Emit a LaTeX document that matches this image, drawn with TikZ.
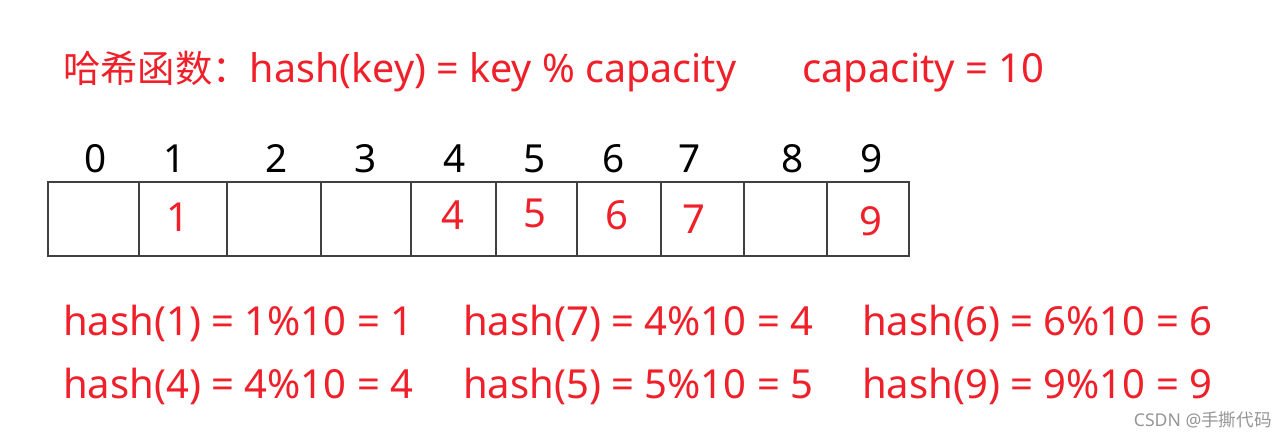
\documentclass[tikz,border=0pt]{standalone}
\usepackage{fontspec}
\setmainfont{Noto Sans}
\newfontfamily\cjk{Noto Sans CJK SC}
\definecolor{hred}{RGB}{240,32,42}
\definecolor{gridc}{RGB}{64,64,64}
\definecolor{wm}{RGB}{150,150,150}
\begin{document}
\begin{tikzpicture}[x=0.75pt,y=-0.75pt,
  redtxt/.style={text=hred,font=\fontsize{30}{36}\selectfont,inner sep=0pt},
  idx/.style={text=black,font=\fontsize{29}{35}\selectfont,inner sep=0pt,anchor=base},
  val/.style={redtxt,anchor=base},
  line/.style={redtxt,anchor=base west},
  cell/.style={draw=gridc,line width=1.5pt,anchor=north west,minimum height=55.5pt,inner sep=0pt}]
\useasboundingbox[fill=white] (0,0) rectangle (1288,439);
% title
\node[line,font=\fontsize{29.6}{36}\selectfont] (t1) at (63,82) {{\cjk\fontsize{28}{34}\selectfont 哈希函数：}hash(key) = key \% capacity};
\node[line] (t2) at (802,82) {capacity = 10};
% cells
\node[cell,minimum width=68.25pt] (c0) at (47,181) {};
\node[cell,minimum width=66pt] (c1) at (138,181) {};
\node[cell,minimum width=70.5pt] (c2) at (226,181) {};
\node[cell,minimum width=67.5pt] (c3) at (320,181) {};
\node[cell,minimum width=63.75pt] (c4) at (410,181) {};
\node[cell,minimum width=60.75pt] (c5) at (495,181) {};
\node[cell,minimum width=63pt] (c6) at (576,181) {};
\node[cell,minimum width=62.25pt] (c7) at (660,181) {};
\node[cell,minimum width=62.25pt] (c8) at (743,181) {};
\node[cell,minimum width=61.5pt] (c9) at (826,181) {};
% indices
\node[idx] (i0) at (96,172) {0};
\node[idx] (i1) at (175,172) {1};
\node[idx] (i2) at (277,172) {2};
\node[idx] (i3) at (366,172) {3};
\node[idx] (i4) at (455,172) {4};
\node[idx] (i5) at (535,172) {5};
\node[idx] (i6) at (614,172) {6};
\node[idx] (i7) at (690,172) {7};
\node[idx] (i8) at (793,172) {8};
\node[idx] (i9) at (872,172) {9};
% values
\node[val] (v1) at (178,231) {1};
\node[val] (v4) at (453,229) {4};
\node[val] (v5) at (535,227) {5};
\node[val] (v6) at (617,229) {6};
\node[val] (v7) at (694,233) {7};
\node[val] (v9) at (871,235) {9};
% formulas
\node[line] (h1) at (63,335) {hash(1) = 1\%10 = 1};
\node[line] (h7) at (463,335) {hash(7) = 4\%10 = 4};
\node[line] (h6) at (862,335) {hash(6) = 6\%10 = 6};
\node[line] (h4) at (63,398) {hash(4) = 4\%10 = 4};
\node[line] (h5) at (463,398) {hash(5) = 5\%10 = 5};
\node[line] (h9) at (862,398) {hash(9) = 9\%10 = 9};
% watermark
\node[anchor=base east,inner sep=0pt,text=wm,font=\fontsize{13.2}{15}\selectfont] (wm) at (1272,426) {CSDN @{\cjk 手撕代码}};
\end{tikzpicture}
\end{document}
